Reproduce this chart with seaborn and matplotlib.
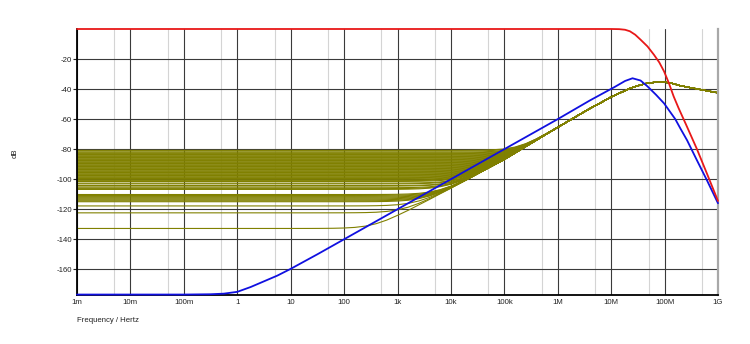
import numpy as np
import pandas as pd
import matplotlib
matplotlib.use("Agg")
import matplotlib.pyplot as plt
import seaborn as sns
from matplotlib.ticker import FixedLocator, FixedFormatter, NullFormatter

# ---------------- data ----------------
# frequencies given as log10(Hz)
red_logf = [-3, 7.0, 7.15, 7.26, 7.35, 7.45, 7.55, 7.68, 7.8, 7.9, 7.99, 8.08,
            8.17, 8.26, 8.4, 8.6, 8.79, 9.0]
red_db = [0, 0, -0.1, -0.5, -1.5, -3.8, -7.1, -11.6, -17.1, -22.2, -28.2, -36.0,
          -44.9, -52.5, -63.5, -79.5, -96.0, -114.5]

blue_logf = [-3, -1, -0.5, -0.25, 0, 0.25, 0.5, 0.75, 1, 1.5, 2, 3, 4, 5, 6, 6.6,
             7.07, 7.26, 7.4, 7.55, 7.68, 7.84, 7.99, 8.1, 8.2, 8.3, 8.42, 8.6,
             8.79, 9.0]
blue_db = [-176.8, -176.8, -176.6, -176.2, -175.0, -171.8, -168.0, -164.2, -159.7,
           -150.0, -140.0, -120.0, -100.0, -80.0, -60.0, -47.6, -38.5, -34.6,
           -32.8, -34.3, -38.2, -43.8, -49.5, -55.0, -60.0, -66.5, -74.0, -87.0,
           -100.5, -116.0]

# shared rising response of the olive traces
olive_logf = [1.0, 1.2, 1.4, 1.6, 1.8, 2.0, 2.2, 2.4, 2.6, 2.8,
              3.0, 3.2, 3.4, 3.6, 3.8, 4.0, 4.2, 4.4, 4.6, 4.8,
              5.0, 5.2, 5.4, 5.6, 5.8, 6.0, 6.2, 6.4, 6.6, 6.8,
              7.0, 7.2, 7.37, 7.5, 7.68, 7.85, 7.99, 8.15, 8.3, 8.55, 8.8, 9.0]
olive_db = [-163.5, -159.6, -155.7, -151.9, -148.0, -144.2, -140.3, -136.4, -132.5, -128.6,
            -124.7, -121.0, -117.2, -113.5, -109.7, -106.0, -102.2, -98.4, -94.5, -90.7,
            -86.9, -82.6, -78.3, -74.0, -69.7, -65.5, -61.3, -57.1, -53.0, -49.2,
            -45.2, -42.0, -39.3, -37.8, -36.0, -35.4, -35.3, -36.3, -37.8, -39.5, -41.2, -42.5]

# low-frequency floor level of each olive trace
olive_floors = [-80.8, -81.3, -82.0, -82.5, -83.0, -83.5, -84.0, -84.5, -85.0, -85.5,
                -86.0, -86.5, -87.0, -87.5, -88.0, -88.5, -89.0, -89.5, -90.0, -90.5,
                -91.0, -91.5, -92.0, -92.5, -93.0, -93.5, -94.0, -94.5, -95.0, -95.5,
                -96.0, -96.5, -97.0, -97.5, -98.0, -98.5, -99.0, -99.5, -100.0, -100.5,
                -101.0, -101.5, -102.6, -103.1, -104.2, -104.6, -105.7, -106.3, -106.8,
                -110.2, -110.8, -111.4, -112.0, -112.6, -113.2, -113.8, -114.4, -115.0,
                -117.8, -122.4, -132.8]

x_tick_logf = [-3, -2, -1, 0, 1, 2, 3, 4, 5, 6, 7, 8, 9]
x_tick_labels = ["1m", "10m", "100m", "1", "10", "100", "1k", "10k", "100k",
                 "1M", "10M", "100M", "1G"]
y_ticks = [-20, -40, -60, -80, -100, -120, -140, -160]

# ---------------- tables ----------------
df_red = pd.DataFrame({"f": 10.0 ** np.array(red_logf), "dB": red_db})
df_blue = pd.DataFrame({"f": 10.0 ** np.array(blue_logf), "dB": blue_db})

of = 10.0 ** np.array(olive_logf)
oa = np.array(olive_db)
rows = []
for i, fl in enumerate(olive_floors):
    yy = 10 * np.log10(10 ** (fl / 10) + 10 ** (oa / 10))
    rows.append(pd.DataFrame({"f": np.concatenate([[1e-3], of]),
                              "dB": np.concatenate([[fl], yy]),
                              "trace": i}))
df_olive = pd.concat(rows, ignore_index=True)

# ---------------- figure ----------------
sns.set_style("white")
plt.rcParams["font.family"] = ["Liberation Sans", "DejaVu Sans"]

fig = plt.figure(figsize=(7.5, 3.44), dpi=100)
ax = fig.add_axes([77 / 750, 1 - 295 / 344, 641 / 750, 266 / 344])
ax.set_xscale("log")

sns.lineplot(data=df_olive, x="f", y="dB", units="trace", estimator=None,
             sort=False, color="#808000", lw=0.8, ax=ax, legend=False)
sns.lineplot(data=df_blue, x="f", y="dB", sort=False, color="#1010e0",
             lw=1.3, ax=ax, legend=False, clip_on=False, zorder=5)
sns.lineplot(data=df_red, x="f", y="dB", sort=False, color="#e81818",
             lw=1.3, ax=ax, legend=False, clip_on=False, zorder=6)

ax.set_xlim(1e-3, 1e9)
ax.set_ylim(-177.1, 0)

ax.xaxis.set_major_locator(FixedLocator([10.0 ** v for v in x_tick_logf]))
ax.xaxis.set_major_formatter(FixedFormatter(x_tick_labels))
ax.xaxis.set_minor_locator(FixedLocator([5 * 10.0 ** v for v in x_tick_logf[:-1]]))
ax.xaxis.set_minor_formatter(NullFormatter())
ax.set_yticks(y_ticks)
ax.set_yticklabels([str(v) for v in y_ticks])

ax.grid(which="major", color="#3a3a3a", lw=0.8)
ax.grid(which="minor", axis="x", color="#d4d4d4", lw=0.8)
ax.set_axisbelow(True)

ax.tick_params(axis="x", which="both", length=0, pad=3, labelsize=5.6, colors="#222222")
ax.tick_params(axis="y", length=3, width=0.8, pad=0.5, labelsize=5.6,
               colors="#222222", left=True)

for s in ("top",):
    ax.spines[s].set_visible(False)
ax.spines["left"].set_color("black")
ax.spines["left"].set_linewidth(1.3)
ax.spines["bottom"].set_color("black")
ax.spines["bottom"].set_linewidth(1.3)
ax.spines["right"].set_color("#a8a8a8")
ax.spines["right"].set_linewidth(1.6)

ax.set_xlabel("")
ax.set_ylabel("")
fig.text(15 / 750, 1 - 153 / 344, "dB", rotation=90, ha="center", va="center",
         fontsize=5.6, color="#222222")
fig.text(77 / 750, 1 - 320 / 344, "Frequency / Hertz", ha="left", va="center",
         fontsize=5.6, color="#222222")

fig.savefig("out.png", dpi=100)
